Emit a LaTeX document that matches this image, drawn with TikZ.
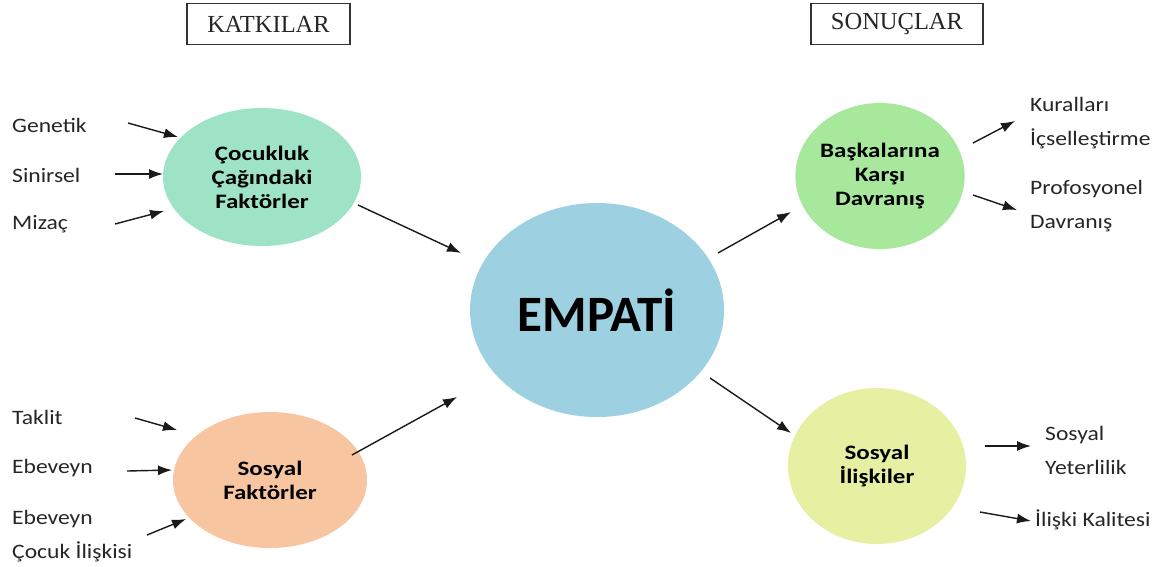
\documentclass[tikz,border=0pt]{standalone}
\usepackage{fontspec}
\setmainfont[FakeStretch=1.15]{Carlito}
\newfontfamily\bubblefont[FakeStretch=1.22]{Carlito}
\newfontfamily\bigfont{Carlito}
\newfontfamily\headfont{Liberation Serif}
\usetikzlibrary{shapes.geometric,arrows.meta}
\definecolor{mintfill}{HTML}{9EE3C6}
\definecolor{peachfill}{HTML}{F7C6A0}
\definecolor{skyfill}{HTML}{9DD0E0}
\definecolor{leaffill}{HTML}{A8E89C}
\definecolor{limefill}{HTML}{E6F0A2}
\definecolor{inkline}{HTML}{1A1A1A}
\tikzset{
  bubble/.style={ellipse, inner sep=0pt, draw=none, align=center,
    font=\bubblefont\fontsize{20.5}{24}\selectfont\bfseries, text=black},
  label/.style={anchor=west, inner sep=0pt, align=left,
    font=\fontsize{20.5}{34}\selectfont, text=black!85},
  headbox/.style={draw=black!80, line width=1.2pt, inner sep=0pt,
    font=\headfont\fontsize{24.5}{24.5}\selectfont, text=black!85},
  link/.style={draw=inkline, line width=1.4pt, -{Latex[length=14pt,width=10pt]}}
}
\begin{document}
\begin{tikzpicture}[x=1pt,y=-1pt]
\fill[white] (0,0) rectangle (1174,566);
\useasboundingbox (0,0) rectangle (1174,566);

% section headers
\node[headbox, minimum width=163pt, minimum height=41pt] (katki) at (268.5,24) {KATKILAR};
\node[headbox, minimum width=172pt, minimum height=41pt] (sonuc) at (897,24) {SONUÇLAR};

% ellipses
\node[bubble, fill=mintfill, minimum width=198pt, minimum height=138pt] (cocuk) at (262,177)
  {Çocukluk\\Çağındaki\\Faktörler};
\node[bubble, fill=peachfill, minimum width=194pt, minimum height=136pt] (sosfak) at (270,480)
  {Sosyal\\Faktörler};
\node[bubble, fill=skyfill, minimum width=254pt, minimum height=214pt,
  font=\bigfont\fontsize{51}{51}\selectfont\bfseries] (empati) at (597,310) {EMPATİ};
\node[bubble, fill=leaffill, minimum width=150pt, minimum height=146pt] (baska) at (880,176)
  {Başkalarına\\Karşı\\Davranış};
\node[bubble, fill=limefill, minimum width=178pt, minimum height=156pt] (sosil) at (877,466)
  {Sosyal\\İlişkiler};

% left-hand labels
\node[label] (genetik) at (12,125) {Genetik};
\node[label] (sinir) at (12,175) {Sinirsel};
\node[label] (mizac) at (12,224) {Mizaç};
\node[label] (taklit) at (12,417) {Taklit};
\node[label] (ebeveyn) at (12,468) {Ebeveyn};
\node[label, anchor=north west] (ebcocuk) at (12,510) {Ebeveyn\\Çocuk İlişkisi};

% right-hand labels
\node[label, anchor=north west] (kural) at (1030,97) {Kuralları\\İçselleştirme};
\node[label, anchor=north west] (profe) at (1030,180) {Profosyonel\\Davranış};
\node[label, anchor=north west] (yeter) at (1045,426) {Sosyal\\Yeterlilik};
\node[label] (kalite) at (1035,520) {İlişki Kalitesi};

% arrow end points
\coordinate (genA) at (128,123);  \coordinate (genB) at (178,137);
\coordinate (sinA) at (115,174);  \coordinate (sinB) at (163,174);
\coordinate (mizA) at (115,224);  \coordinate (mizB) at (164,211);
\coordinate (takA) at (135,418);  \coordinate (takB) at (177,430);
\coordinate (ebvA) at (127,471);  \coordinate (ebvB) at (172,470);
\coordinate (ecA) at (147,535);   \coordinate (ecB) at (186,519);
\coordinate (cocA) at (358,205);  \coordinate (cocB) at (461,253);
\coordinate (sfA) at (352,455);   \coordinate (sfB) at (457,397);
\coordinate (emA) at (718,253);   \coordinate (emB) at (791,212);
\coordinate (emC) at (710,378);   \coordinate (emD) at (791,433);
\coordinate (bkA) at (973,143);   \coordinate (bkB) at (1015,121);
\coordinate (bkC) at (973,195);   \coordinate (bkD) at (1017,210);
\coordinate (siA) at (985,446);   \coordinate (siB) at (1031,446);
\coordinate (siC) at (980,512);   \coordinate (siD) at (1031,521);

% connectors
\draw[link] (genA) -- (genB);
\draw[link] (sinA) -- (sinB);
\draw[link] (mizA) -- (mizB);
\draw[link] (takA) -- (takB);
\draw[link] (ebvA) -- (ebvB);
\draw[link] (ecA) -- (ecB);
\draw[link] (cocA) -- (cocB);
\draw[link] (sfA) -- (sfB);
\draw[link] (emA) -- (emB);
\draw[link] (emC) -- (emD);
\draw[link] (bkA) -- (bkB);
\draw[link] (bkC) -- (bkD);
\draw[link] (siA) -- (siB);
\draw[link] (siC) -- (siD);
\end{tikzpicture}
\end{document}
